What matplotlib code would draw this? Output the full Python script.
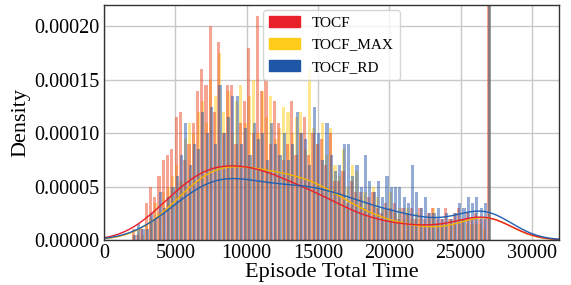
import numpy as np
import matplotlib
matplotlib.use("Agg")
import matplotlib.pyplot as plt
import matplotlib.patches as mpatches
import matplotlib.ticker as mticker
import seaborn as sns

# bin centres of the episode-time histogram (every 300 s) and the capped value
bin_start = 2100
bin_step = 300
cap_time = 27000

# bar heights in units of 1e-5 (density), one value per bin
tocf = [1, 0.5, 1, 3.5, 5, 4, 6, 7.5, 8, 8.5,
        11.5, 12, 7.5, 9, 11, 14, 16, 14.5, 20, 12,
        18.5, 10, 14.5, 14.5, 9, 11, 13, 18, 10, 21,
        14, 15, 9, 13, 11, 7.5, 9, 13, 8, 10,
        11.5, 8, 10, 9, 9.5, 7, 10, 5.5, 5.5, 6.5,
        3.5, 5.5, 4.5, 4.5, 3, 4, 4.5, 3, 2.5, 3.5,
        3, 3.5, 2, 3, 2.5, 3, 2, 3, 2, 2.5,
        3, 2, 2, 3, 2, 2.5, 3, 2, 2.5, 2,
        2.5, 2, 2]
tocf_max = [0.5, 1, 0.5, 1.5, 2, 3.5, 2.5, 4.5, 5, 6,
            7, 5.5, 9.5, 11, 10, 12, 13, 11, 15, 13.5,
            17.5, 12, 14, 10, 13, 14.5, 11, 13.5, 15, 10,
            14, 11.5, 13.5, 9.5, 10.5, 12.5, 12, 10, 11.5, 12,
            8.5, 16, 10.5, 9, 11, 8, 10.5, 7, 6, 8.5,
            5, 7, 6.5, 4, 4.5, 3.5, 5, 4, 3, 3,
            4.5, 2.5, 3, 2, 3, 2, 2.5, 2, 1.5, 2,
            3, 1.5, 1.5, 1.5, 2, 1.5, 1.5, 2, 1.5, 1.5,
            1.5, 1.5, 1]
tocf_rd = [0.5, 1.5, 1, 1, 2.5, 2, 4.5, 3, 4, 5,
           6, 8, 11, 7, 9, 8.5, 12, 10, 12.5, 9,
           14.5, 10, 11.5, 13.5, 13.5, 9, 10.5, 8, 11, 9.5,
           10, 7.5, 11, 9, 8, 10, 7.5, 9, 12, 10,
           9.5, 7, 12.5, 10, 7.5, 11, 8, 6.5, 7, 9,
           9, 6, 7, 5, 8, 5.5, 4.5, 5.5, 4, 6,
           5, 5, 5, 4, 3.5, 7, 4.5, 3, 4, 2.5,
           2.5, 3, 2, 2.5, 2, 2.5, 3.5, 3, 4, 3.5,
           4, 3, 3.5]
# height of the bar at the capped time (goes off the top)
cap_heights = [45, 45, 50]

names = ["TOCF", "TOCF_MAX", "TOCF_RD"]
line_colors = ["#e8202a", "#f5b400", "#2060b0"]
patch_colors = ["#e8202a", "#ffcc1a", "#1f56a6"]
bar_colors = ["#ee4b2b", "#ffcc1a", "#2a58aa"]
bar_shift = [-40, 0, 40]

plt.rcParams["font.family"] = ["Liberation Serif", "DejaVu Serif"]

fig, ax = plt.subplots(figsize=(5.71, 2.85), dpi=100)
fig.subplots_adjust(left=0.182, right=0.979, top=0.982, bottom=0.158)

bar_w = 220
series = [tocf, tocf_max, tocf_rd]
# yellow first, then red, then blue on top
for i in [1, 0, 2]:
    vals = series[i]
    centers = bin_start + bin_step * np.arange(len(vals))
    x = np.append(centers, cap_time)
    h = np.append(vals, cap_heights[i]) * 1e-5
    ax.bar(x + bar_shift[i], h, width=bar_w, color=bar_colors[i], alpha=0.5,
           linewidth=0)
for i in [1, 0, 2]:
    vals = series[i]
    centers = bin_start + bin_step * np.arange(len(vals))
    x = np.append(centers, cap_time)
    h = np.append(vals, cap_heights[i]) * 1e-5
    sns.kdeplot(x=x, weights=h, bw_method=0.28, cut=3,
                color=line_colors[i], linewidth=1.0, ax=ax)

ax.set_xlim(0, 31900)
ax.set_ylim(0, 0.00022)
ax.set_xticks([0, 5000, 10000, 15000, 20000, 25000, 30000])
ax.set_yticks([0, 0.00005, 0.0001, 0.00015, 0.0002])
ax.yaxis.set_major_formatter(mticker.FormatStrFormatter("%.5f"))
ax.tick_params(labelsize=14.5, length=0)
ax.tick_params(axis="x", pad=3)
ax.tick_params(axis="y", pad=3)
ax.grid(True, color="#c8c8c8", linewidth=1.0)
ax.set_axisbelow(True)
for s in ax.spines.values():
    s.set_color("#333333")
    s.set_linewidth(1.0)
ax.set_xlabel("Episode Total Time", fontsize=16, labelpad=0)
ax.set_ylabel("Density", fontsize=16, labelpad=3)

handles = [mpatches.Patch(color=c, label=n) for c, n in zip(patch_colors, names)]
ax.legend(handles=handles, loc="upper center", bbox_to_anchor=(0.5, 1.0),
          fontsize=11, frameon=True, handlelength=2.0, borderpad=0.4,
          labelspacing=0.55, borderaxespad=0.3)

fig.savefig("out.png", dpi=100)
